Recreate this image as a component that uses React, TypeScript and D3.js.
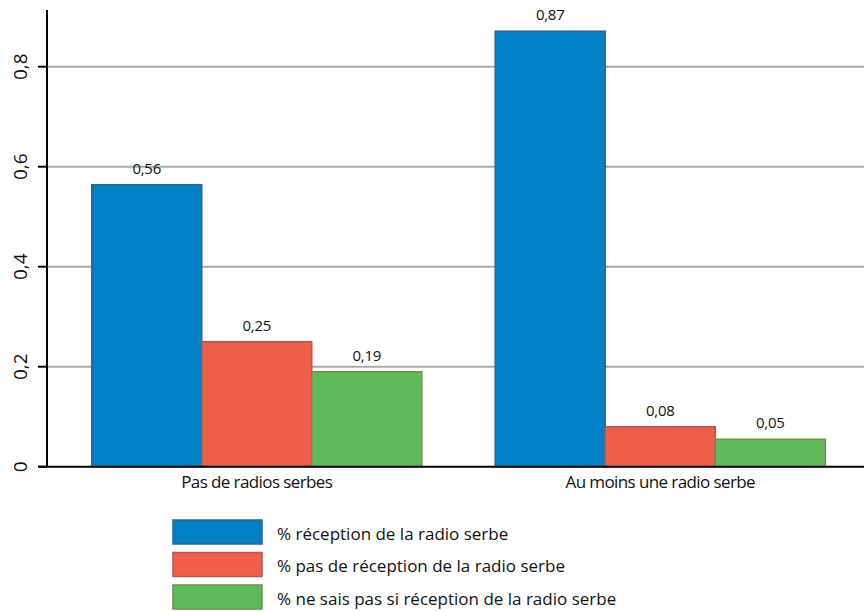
import React, { useEffect, useRef } from 'react';
import * as d3 from 'd3';

const categories = ['Pas de radios serbes', 'Au moins une radio serbe'];
const seriesNames = [
  '% réception de la radio serbe',
  '% pas de réception de la radio serbe',
  '% ne sais pas si réception de la radio serbe',
];
const reception = [0.564, 0.871];
const noReception = [0.25, 0.08];
const dontKnow = [0.19, 0.0549];
const yTicks = [0, 0.2, 0.4, 0.6, 0.8];

const fills = ['#0080c6', '#ef5e49', '#5fbb5a'];
const strokes = ['#2d6390', '#b5545a', '#6e8f4f'];

const App: React.FC = () => {
  const svgRef = useRef<SVGSVGElement>(null);

  useEffect(() => {
    if (!svgRef.current) return;
    const width = 864;
    const height = 611;
    const font = "'Open Sans', 'Noto Sans', sans-serif";

    const svg = d3.select(svgRef.current);
    svg.selectAll('*').remove();
    svg.attr('width', width).attr('height', height);

    const left = 47;
    const right = 864;
    const y = d3.scaleLinear().domain([0, 1]).range([466.7, -33.3]);
    const x0 = d3.scaleBand<string>().domain(categories).range([55, 862]).paddingInner(0.182).paddingOuter(0.091);
    const x1 = d3.scaleBand<number>().domain([0, 1, 2]).range([0, x0.bandwidth()]);

    const series = [reception, noReception, dontKnow];

    // gridlines
    svg.append('g')
      .selectAll('line')
      .data(yTicks.filter((t) => t > 0))
      .enter()
      .append('line')
      .attr('x1', left)
      .attr('x2', right)
      .attr('y1', (d) => y(d))
      .attr('y2', (d) => y(d))
      .attr('stroke', '#aaaaaa')
      .attr('stroke-width', 2);

    // bars
    categories.forEach((cat, ci) => {
      const g = svg.append('g').attr('transform', `translate(${x0(cat)},0)`);
      series.forEach((vals, si) => {
        const v = vals[ci];
        g.append('rect')
          .attr('x', x1(si)!)
          .attr('y', y(v))
          .attr('width', x1.bandwidth())
          .attr('height', y(0) - y(v))
          .attr('fill', fills[si])
          .attr('stroke', strokes[si])
          .attr('stroke-width', 1.5);
        g.append('text')
          .attr('x', x1(si)! + x1.bandwidth() / 2)
          .attr('y', y(v) - 11)
          .attr('text-anchor', 'middle')
          .attr('font-family', font)
          .attr('font-size', 15)
          .attr('letter-spacing', -0.3)
          .attr('fill', '#111')
          .text(v.toFixed(2).replace('.', ','));
      });
      svg.append('text')
        .attr('x', x0(cat)! + x0.bandwidth() / 2)
        .attr('y', 488)
        .attr('text-anchor', 'middle')
        .attr('font-family', font)
        .attr('font-size', 17)
        .attr('letter-spacing', -0.6)
        .attr('fill', '#111')
        .text(cat);
    });

    // y axis
    svg.append('line')
      .attr('x1', left)
      .attr('x2', left)
      .attr('y1', 10)
      .attr('y2', y(0))
      .attr('stroke', '#000')
      .attr('stroke-width', 2);
    svg.append('line')
      .attr('x1', 38)
      .attr('x2', right)
      .attr('y1', y(0))
      .attr('y2', y(0))
      .attr('stroke', '#000')
      .attr('stroke-width', 2);
    yTicks.forEach((t) => {
      svg.append('line')
        .attr('x1', 38)
        .attr('x2', left)
        .attr('y1', y(t))
        .attr('y2', y(t))
        .attr('stroke', '#000')
        .attr('stroke-width', 2);
      svg.append('text')
        .attr('transform', `translate(27,${y(t)}) rotate(-90)`)
        .attr('text-anchor', 'middle')
        .attr('font-family', font)
        .attr('font-size', 19)
        .attr('fill', '#111')
        .text(t === 0 ? '0' : String(t).replace('.', ','));
    });

    // legend
    const lg = svg.append('g').attr('transform', 'translate(173,520)');
    seriesNames.forEach((name, i) => {
      lg.append('rect')
        .attr('x', 0)
        .attr('y', i * 32.5)
        .attr('width', 89)
        .attr('height', 24)
        .attr('fill', fills[i])
        .attr('stroke', strokes[i])
        .attr('stroke-width', 1.5);
      lg.append('text')
        .attr('x', 104)
        .attr('y', i * 32.5 + 19.5)
        .attr('font-family', font)
        .attr('font-size', 17)
        .attr('fill', '#111')
        .text(name);
    });
  }, []);

  return <svg ref={svgRef} style={{ position: 'absolute', left: 0, top: 0 }}></svg>;
};

export default App;
